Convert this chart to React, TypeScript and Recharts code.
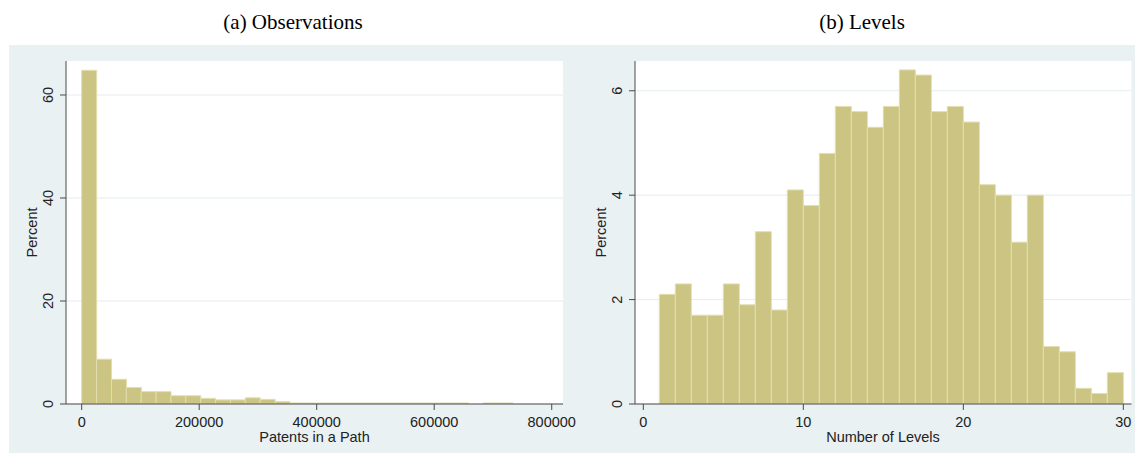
import React from 'react';
import { BarChart, Bar, XAxis, YAxis, CartesianGrid } from 'recharts';

// (a) Observations: percent of paths by number of patents in a path (29 bins)
const obsBinWidth = 25310;
const obsPercent = [
  64.8, 8.7, 4.8, 3.2, 2.4, 2.4, 1.6, 1.6, 1.1, 0.8, 0.8, 1.2, 0.9, 0.45,
  0.2, 0.2, 0.2, 0.2, 0.2, 0.2, 0.2, 0.2, 0.2, 0.2, 0.2, 0.2, 0, 0.2, 0.2,
];
const obsXTicks = [0, 200000, 400000, 600000, 800000];
const obsYTicks = [0, 20, 40, 60];

// (b) Levels: percent of paths by number of levels (bins of width 1 starting at 1)
const levelsFirstBin = 1;
const levelsPercent = [
  2.1, 2.3, 1.7, 1.7, 2.3, 1.9, 3.3, 1.8, 4.1, 3.8,
  4.8, 5.7, 5.6, 5.3, 5.7, 6.4, 6.3, 5.6, 5.7, 5.4,
  4.2, 4.0, 3.1, 4.0, 1.1, 1.0, 0.3, 0.2, 0.6,
];
const levelsXTicks = [0, 10, 20, 30];
const levelsYTicks = [0, 2, 4, 6];

const obsData = obsPercent.map((p, i) => ({ x: (i + 0.5) * obsBinWidth, pct: p }));
const levelsData = levelsPercent.map((p, i) => ({ x: levelsFirstBin + i + 0.5, pct: p }));

const SANS = '"Liberation Sans", Arial, sans-serif';
const SERIF = '"Liberation Serif", "Times New Roman", serif';
const BG = '#e9f1f3';
const GRID = '#e3ecef';
const AXIS = '#4a4a4a';
const BAR_FILL = '#cbc482';
const BAR_STROKE = '#e2deae';
const TEXT = '#222222';

const VTick = (props: any) => {
  const { x, y, payload } = props;
  return (
    <text
      x={x}
      y={y}
      transform={`rotate(-90, ${x}, ${y})`}
      textAnchor="middle"
      dominantBaseline="central"
      fontSize={14.5}
      fontFamily={SANS}
      fill={TEXT}
    >
      {payload.value}
    </text>
  );
};

export default function App() {
  return (
    <div style={{ position: 'absolute', left: 0, top: 0, width: 1135, height: 453, background: '#ffffff', overflow: 'hidden' }}>
      <div style={{ position: 'absolute', left: 9, top: 45, width: 1126, height: 408, background: BG }} />

      <div style={{ position: 'absolute', left: 570, top: 0 }}>
        <BarChart
          width={565}
          height={453}
          data={levelsData}
          margin={{ top: 61, right: 3.5, bottom: 0, left: 0 }}
          barCategoryGap={0}
          barGap={0}
        >
          <CartesianGrid vertical={false} fill="#ffffff" fillOpacity={1} stroke={GRID} horizontalValues={levelsYTicks} />
          <XAxis
            type="number"
            dataKey="x"
            scale="linear"
            domain={[-0.52, 30.51]}
            allowDataOverflow
            ticks={levelsXTicks}
            interval={0}
            height={49}
            tickSize={6}
            tickMargin={7}
            stroke={AXIS}
            tick={{ fontSize: 14.5, fontFamily: SANS, fill: TEXT }}
          />
          <YAxis
            type="number"
            domain={[0, 6.57]}
            allowDataOverflow
            ticks={levelsYTicks}
            interval={0}
            width={65}
            tickSize={6}
            tickMargin={12}
            stroke={AXIS}
            tick={<VTick />}
          />
          <Bar dataKey="pct" fill={BAR_FILL} stroke={BAR_STROKE} strokeWidth={1} isAnimationActive={false} />
        </BarChart>
      </div>

      <div style={{ position: 'absolute', left: 0, top: 0 }}>
        <BarChart
          width={600}
          height={453}
          data={obsData}
          margin={{ top: 61, right: 37, bottom: 0, left: 0 }}
          barCategoryGap={0}
          barGap={0}
        >
          <CartesianGrid vertical={false} fill="#ffffff" fillOpacity={1} stroke={GRID} horizontalValues={obsYTicks} />
          <XAxis
            type="number"
            dataKey="x"
            scale="linear"
            domain={[-26700, 819200]}
            allowDataOverflow
            ticks={obsXTicks}
            interval={0}
            height={49}
            tickSize={6}
            tickMargin={7}
            stroke={AXIS}
            tick={{ fontSize: 14.5, fontFamily: SANS, fill: TEXT }}
          />
          <YAxis
            type="number"
            domain={[0, 66.6]}
            allowDataOverflow
            ticks={obsYTicks}
            interval={0}
            width={66}
            tickSize={6}
            tickMargin={12}
            stroke={AXIS}
            tick={<VTick />}
          />
          <Bar dataKey="pct" fill={BAR_FILL} stroke={BAR_STROKE} strokeWidth={1} isAnimationActive={false} />
        </BarChart>
      </div>

      <svg width={1135} height={453} style={{ position: 'absolute', left: 0, top: 0, pointerEvents: 'none' }}>
        <text x={293} y={29} textAnchor="middle" fontSize={21} fontFamily={SERIF} fill="#000">(a) Observations</text>
        <text x={862} y={29} textAnchor="middle" fontSize={21} fontFamily={SERIF} fill="#000">(b) Levels</text>
        <text x={314.5} y={442} textAnchor="middle" fontSize={14.5} fontFamily={SANS} fill={TEXT}>Patents in a Path</text>
        <text x={883} y={442} textAnchor="middle" fontSize={14.5} fontFamily={SANS} fill={TEXT}>Number of Levels</text>
        <text x={32} y={232.5} transform="rotate(-90, 32, 232.5)" textAnchor="middle" dominantBaseline="central" fontSize={14.5} fontFamily={SANS} fill={TEXT}>Percent</text>
        <text x={601} y={232.5} transform="rotate(-90, 601, 232.5)" textAnchor="middle" dominantBaseline="central" fontSize={14.5} fontFamily={SANS} fill={TEXT}>Percent</text>
      </svg>
    </div>
  );
}
